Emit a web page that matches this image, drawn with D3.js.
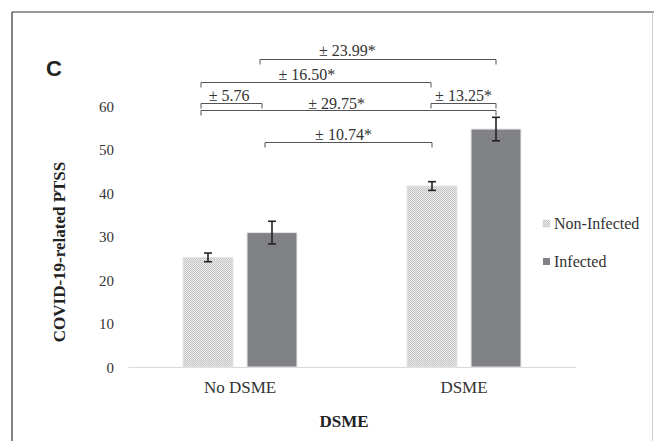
<!DOCTYPE html>
<html>
<head>
<meta charset="utf-8">
<script src="https://cdn.jsdelivr.net/npm/d3@7/dist/d3.min.js"></script>
<style>
  html, body { margin: 0; padding: 0; background: #fff; }
  svg { display: block; }
</style>
</head>
<body>
<script>
// ---- data ----
const groups = ["No DSME", "DSME"];
const series = ["Non-Infected", "Infected"];
const nonInfected = [25.2, 41.6];
const infected = [30.9, 54.7];
const nonInfectedErr = [1.0, 1.0];
const infectedErr = [2.6, 2.7];
const yTicks = [0, 10, 20, 30, 40, 50, 60];

// comparison brackets: label, from [group, series], to [group, series], level (in y units)
const bracketLabels = ["± 23.99*", "± 16.50*", "± 5.76", "± 13.25*", "± 29.75*", "± 10.74*"];
const bracketFrom = [[0, 1], [0, 0], [0, 0], [1, 0], [0, 0], [0, 1]];
const bracketTo = [[1, 1], [1, 0], [0, 1], [1, 1], [1, 1], [1, 0]];
const bracketLevel = [70.8, 65.5, 60.7, 60.7, 59.1, 51.7];

// ---- layout (not data) ----
const W = 654, H = 441;
const fromAnchor = [0.26, 0.36, 0.36, 0.48, 0.36, 0.36];
const toAnchor = [0.5, 0.48, 0.3, 0.5, 0.5, 0.5];
const labelPos = [0.37, 0.46, 0.46, 0.5, 0.46, 0.47];
const labelDy = [-4, -3, -3, -3, -2, -3];

const svg = d3.select("body").append("svg").attr("width", W).attr("height", H);

const defs = svg.append("defs");
const pat = defs.append("pattern").attr("id", "dots").attr("patternUnits", "userSpaceOnUse")
  .attr("width", 2).attr("height", 2);
pat.append("rect").attr("width", 2).attr("height", 2).attr("fill", "#ececec");
pat.append("rect").attr("width", 1).attr("height", 1).attr("fill", "#bdbdbd");
pat.append("rect").attr("x", 1).attr("y", 1).attr("width", 1).attr("height", 1).attr("fill", "#c9c9c9");

// frame
svg.append("line").attr("x1", 12).attr("x2", W).attr("y1", 12).attr("y2", 12).attr("stroke", "#333").attr("stroke-width", 1.2);
svg.append("line").attr("x1", 12).attr("x2", 12).attr("y1", 12).attr("y2", H).attr("stroke", "#333").attr("stroke-width", 1.2);
svg.append("line").attr("x1", 652.5).attr("x2", 652.5).attr("y1", 12).attr("y2", H).attr("stroke", "#d0d0d0").attr("stroke-width", 1);

const x0 = d3.scaleBand().domain(groups).range([128, 576]).paddingInner(0).paddingOuter(0);
const x1 = d3.scaleBand().domain(series).range([0, x0.bandwidth()]).paddingInner(0.22).paddingOuter(0.86);
const y = d3.scaleLinear().domain([0, 60]).range([367, 106]);

const vals = [nonInfected, infected];
const errs = [nonInfectedErr, infectedErr];
const fills = ["url(#dots)", "#808285"];

// y tick labels
const yAxis = d3.axisLeft(y).tickValues(yTicks).tickSize(0).tickPadding(0);
const yg = svg.append("g").attr("transform", "translate(114,0)").call(yAxis);
yg.select(".domain").remove();
yg.selectAll("text").attr("font-family", "'Liberation Serif', 'Times New Roman', serif")
  .attr("font-size", 15).attr("fill", "#333").attr("dy", "0.35em");

// x axis line
const xAxis = d3.axisBottom(x0).tickSize(0).tickPadding(0);
const xg = svg.append("g").attr("transform", "translate(0,367)").call(xAxis);
xg.select(".domain").attr("stroke", "#d9d9d9").attr("stroke-width", 1.2);
xg.selectAll("text").attr("font-family", "'Liberation Serif', 'Times New Roman', serif")
  .attr("font-size", 17).attr("fill", "#333").attr("dy", "26");

// bars
const barData = [];
groups.forEach((g, gi) => series.forEach((s, si) => {
  barData.push({ g, s, gi, si, v: vals[si][gi], e: errs[si][gi] });
}));

svg.append("g").selectAll("rect").data(barData).join("rect")
  .attr("x", d => x0(d.g) + x1(d.s))
  .attr("y", d => y(d.v))
  .attr("width", x1.bandwidth())
  .attr("height", d => y(0) - y(d.v))
  .attr("fill", d => fills[d.si])
  .attr("stroke", "#e4e4e4").attr("stroke-width", 1);

// error bars
const eg = svg.append("g").attr("stroke", "#222").attr("stroke-width", 1.6);
barData.forEach(d => {
  const cx = x0(d.g) + x1(d.s) + x1.bandwidth() / 2;
  eg.append("line").attr("x1", cx).attr("x2", cx).attr("y1", y(d.v + d.e)).attr("y2", y(d.v - d.e));
  eg.append("line").attr("x1", cx - 4).attr("x2", cx + 4).attr("y1", y(d.v + d.e)).attr("y2", y(d.v + d.e));
  eg.append("line").attr("x1", cx - 4).attr("x2", cx + 4).attr("y1", y(d.v - d.e)).attr("y2", y(d.v - d.e));
});

// brackets
const bg = svg.append("g");
bracketLabels.forEach((lab, i) => {
  const f = bracketFrom[i], t = bracketTo[i];
  const xa = x0(groups[f[0]]) + x1(series[f[1]]) + x1.bandwidth() * fromAnchor[i];
  const xb = x0(groups[t[0]]) + x1(series[t[1]]) + x1.bandwidth() * toAnchor[i];
  const yy = Math.round(y(bracketLevel[i])) + 0.5;
  bg.append("path")
    .attr("d", `M${xa},${yy + 5}V${yy}H${xb}V${yy + 5}`)
    .attr("fill", "none").attr("stroke", "#555").attr("stroke-width", 1);
  bg.append("text")
    .attr("x", xa + (xb - xa) * labelPos[i])
    .attr("y", yy + labelDy[i])
    .attr("text-anchor", "middle")
    .attr("font-family", "'Liberation Serif', 'Times New Roman', serif")
    .attr("font-size", 16).attr("fill", "#333")
    .text(lab);
});

// panel letter
svg.append("text").attr("x", 46).attr("y", 76)
  .attr("font-family", "'Liberation Sans', Arial, sans-serif").attr("font-weight", "bold")
  .attr("font-size", 22).attr("fill", "#222").text("C");

// axis titles
svg.append("text").attr("transform", "translate(65,252) rotate(-90)")
  .attr("text-anchor", "middle")
  .attr("font-family", "'Liberation Serif', 'Times New Roman', serif").attr("font-weight", "bold")
  .attr("font-size", 17).attr("fill", "#222").text("COVID-19-related PTSS");
svg.append("text").attr("x", 344).attr("y", 427).attr("text-anchor", "middle")
  .attr("font-family", "'Liberation Serif', 'Times New Roman', serif").attr("font-weight", "bold")
  .attr("font-size", 17).attr("fill", "#222").text("DSME");

// legend
const lg = svg.append("g");
series.forEach((s, i) => {
  const ly = 224 + i * 38;
  lg.append("rect").attr("x", 543).attr("y", ly - 4).attr("width", 7).attr("height", 7)
    .attr("fill", fills[i]).attr("stroke", i === 0 ? "#cfcfcf" : "none").attr("stroke-width", 0.5);
  lg.append("text").attr("x", 554).attr("y", ly + 5)
    .attr("font-family", "'Liberation Serif', 'Times New Roman', serif")
    .attr("font-size", 16).attr("fill", "#333").text(s);
});
</script>
</body>
</html>
